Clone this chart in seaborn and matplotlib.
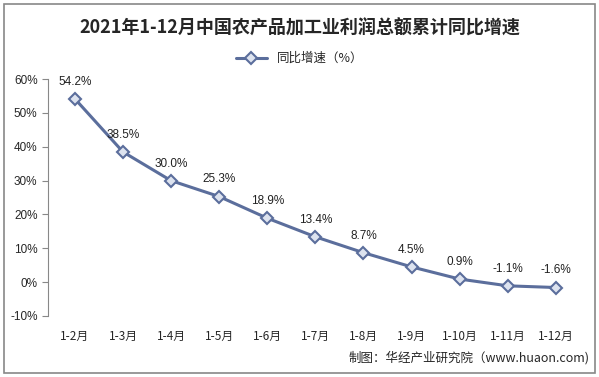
import matplotlib
matplotlib.use("Agg")
import matplotlib.pyplot as plt
import seaborn as sns
import pandas as pd
from matplotlib.patches import Rectangle

sns.set_style("white")
plt.rcParams['font.family'] = ['Noto Sans CJK SC', 'DejaVu Sans']
plt.rcParams['axes.unicode_minus'] = False

categories = ["1-2月", "1-3月", "1-4月", "1-5月", "1-6月", "1-7月",
              "1-8月", "1-9月", "1-10月", "1-11月", "1-12月"]
values = [54.2, 38.5, 30.0, 25.3, 18.9, 13.4, 8.7, 4.5, 0.9, -1.1, -1.6]
series_name = "同比增速（%）"
yticks = [-10, 0, 10, 20, 30, 40, 50, 60]

df = pd.DataFrame({"cat": categories, "val": values})
df["x"] = range(len(categories))

fig = plt.figure(figsize=(5.99, 3.77), dpi=100)
ax = fig.add_axes([0.080, 0.162, 0.888, 0.628])

color = "#5b6e9c"
sns.lineplot(data=df, x="x", y="val", ax=ax, color=color, linewidth=2.2,
             marker="D", markersize=6, markerfacecolor="#dde3ef",
             markeredgecolor=color, markeredgewidth=1.5, label=series_name)

for x, v in zip(df["x"], df["val"]):
    ax.annotate(f"{v:.1f}%", (x, v), xytext=(0, 8), textcoords="offset points",
                ha="center", va="bottom", fontsize=8.5, color="#222222",
                family=["Liberation Sans", "DejaVu Sans"])

ax.set_xlim(-0.56, len(categories) - 0.5)
ax.set_ylim(-10, 60)
ax.set_yticks(yticks)
ax.set_yticklabels([f"{t}%" for t in yticks], fontsize=8.5,
                   family=["Liberation Sans", "DejaVu Sans"])
ax.set_xticks(df["x"])
ax.set_xticklabels(categories, fontsize=8.5)
ax.tick_params(axis="y", which="major", direction="out", length=4, color="#888888", left=True)
ax.tick_params(axis="x", length=0, pad=10)
for s in ["top", "right", "bottom"]:
    ax.spines[s].set_visible(False)
ax.spines["left"].set_color("#888888")
ax.set_xlabel("")
ax.set_ylabel("")

leg = ax.legend(loc="center", bbox_to_anchor=(0.5, 0.845), bbox_transform=fig.transFigure,
                frameon=False, fontsize=9, handlelength=2.5)

fig.text(0.5, 0.925, "2021年1-12月中国农产品加工业利润总额累计同比增速",
         ha="center", va="center", fontsize=13, fontweight="bold")
fig.text(0.985, 0.05, "制图：华经产业研究院（www.huaon.com)", ha="right", va="center",
         fontsize=9)

fig.patches.append(Rectangle((0.006, 0.01), 0.988, 0.98, transform=fig.transFigure,
                             fill=False, edgecolor="#888888", linewidth=1.2))

fig.savefig("out.png", dpi=100)
